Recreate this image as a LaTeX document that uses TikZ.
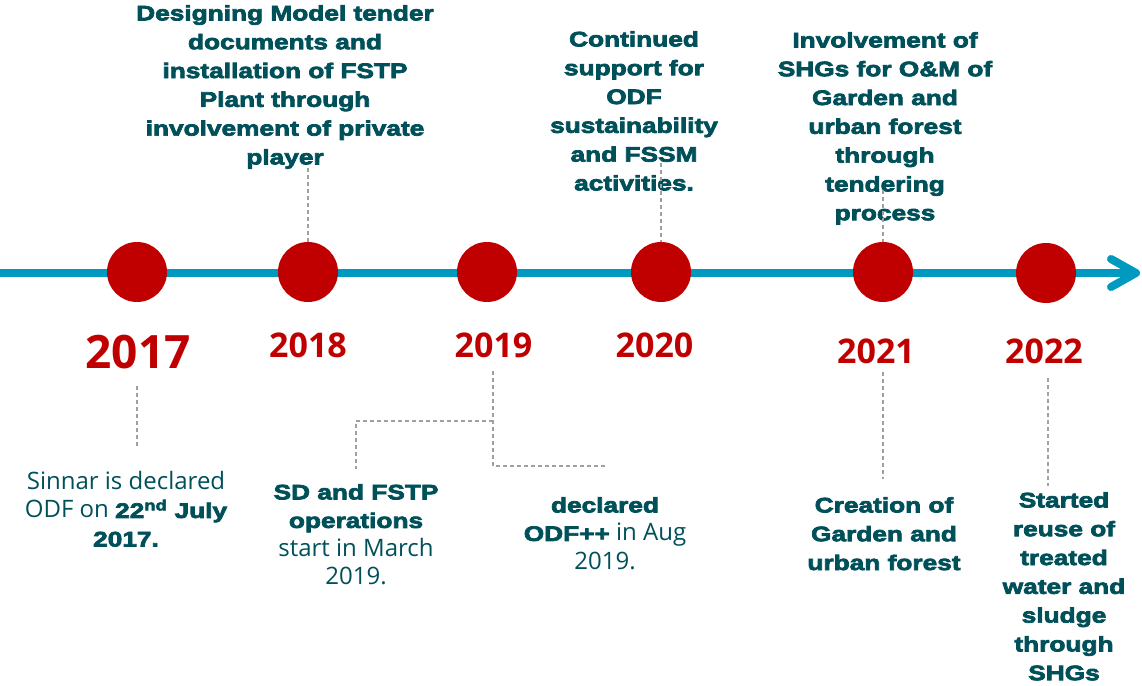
\documentclass[tikz,border=0pt]{standalone}
\usepackage{fontspec}
\setmainfont{Open Sans}
\newfontfamily\blk[FakeBold=3.5,FakeStretch=1.25]{Liberation Sans Bold}
\definecolor{tl}{HTML}{00505A}
\definecolor{rd}{HTML}{C00000}
\definecolor{bl}{HTML}{0099C0}
\definecolor{gr}{HTML}{A0A0A0}
\newcommand\hv[1]{{\blk\fontsize{21}{28.5}\selectfont #1}}
\tikzset{
  dot/.style={circle, fill=rd, minimum size=60pt, inner sep=0pt},
  yearlbl/.style={text=rd, anchor=base, inner sep=0pt, font=\fontsize{34}{40}\selectfont\bfseries},
  heavy/.style={text=tl, align=center, inner sep=0pt, anchor=north, font=\blk\fontsize{21}{28.8}\selectfont},
  plain/.style={text=tl, align=center, inner sep=0pt, anchor=north, font=\fontsize{24}{28.5}\selectfont},
  conn/.style={draw=gr, line width=1.4pt, dash pattern=on 4pt off 3pt},
  axis/.style={draw=bl, line width=8pt},
}
\begin{document}
\begin{tikzpicture}[x=1pt,y=-1pt]
\useasboundingbox (0,0) rectangle (1142,685);
% timeline
\coordinate (a0) at (0,273);
\coordinate (a1) at (1136,273);
\coordinate (h1) at (1111,259);
\coordinate (h2) at (1111,287);
\draw[axis] (a0) -- (a1);
\draw[axis, line cap=round, line join=round] (h1) -- (a1) -- (h2);
% circles
\node[dot] (c1) at (137,272) {};
\node[dot] (c2) at (308,272) {};
\node[dot] (c3) at (487,272) {};
\node[dot] (c4) at (661,272) {};
\node[dot] (c5) at (883,272) {};
\node[dot] (c6) at (1046,273) {};
% years
\node[yearlbl, font=\fontsize{46}{50}\selectfont\bfseries] (y1) at (138,368) {2017};
\node[yearlbl] (y2) at (308,357) {2018};
\node[yearlbl] (y3) at (493.5,357) {2019};
\node[yearlbl] (y4) at (654.5,357) {2020};
\node[yearlbl] (y5) at (876,363) {2021};
\node[yearlbl] (y6) at (1044,363) {2022};
% top texts
\node[heavy] (t2) at (285,5) {Designing Model tender\\documents and\\installation of FSTP\\Plant through\\involvement of private\\player};
\node[heavy] (t4) at (634,31) {Continued\\support for\\ODF\\sustainability\\and FSSM\\activities.};
\node[heavy] (t5) at (885,32) {Involvement of\\SHGs for O\&M of\\Garden and\\urban forest\\through\\tendering\\process};
% bottom texts
\node[plain] (b1) at (126,471) {Sinnar is declared\\ODF on \hv{22\textsuperscript{nd} July}\\\hv{2017.}};
\node[plain] (b3) at (356,484) {\hv{SD and FSTP}\\\hv{operations}\\start in March\\2019.};
\node[plain] (b4) at (605,497) {\hv{declared}\\\hv{ODF++} in Aug\\2019.};
\node[heavy] (b5) at (884,497) {Creation of\\Garden and\\urban forest};
\node[heavy] (b6) at (1064,492) {Started\\reuse of\\treated\\water and\\sludge\\through\\SHGs};
% connectors
\coordinate (k2) at (308,168);
\coordinate (k4) at (661,163);
\coordinate (k5) at (883,190);
\draw[conn] (k2) -- (c2.north);
\draw[conn] (k4) -- (c4.north);
\draw[conn] (k5) -- (c5.north);
\coordinate (d1a) at (137,386);
\coordinate (d1b) at (137,447);
\draw[conn] (d1a) -- (d1b);
\coordinate (d3a) at (493,371);
\coordinate (d3b) at (493,466);
\coordinate (d3c) at (605,466);
\coordinate (d3d) at (493,421);
\coordinate (d3e) at (356,421);
\coordinate (d3f) at (356,469);
\draw[conn] (d3a) -- (d3b) -- (d3c);
\draw[conn] (d3d) -- (d3e) -- (d3f);
\coordinate (d5a) at (883,372);
\coordinate (d5b) at (883,479);
\draw[conn] (d5a) -- (d5b);
\coordinate (d6a) at (1048,378);
\coordinate (d6b) at (1048,486);
\draw[conn] (d6a) -- (d6b);
\end{tikzpicture}
\end{document}
